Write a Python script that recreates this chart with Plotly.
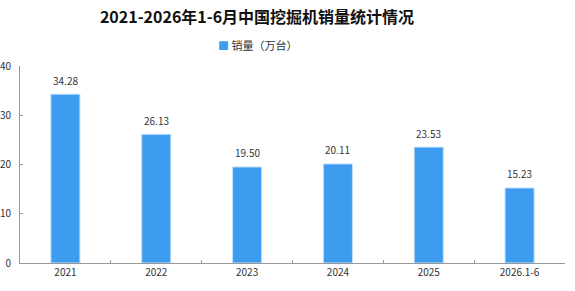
import plotly.graph_objects as go

categories = ["2021", "2022", "2023", "2024", "2025", "2026.1-6"]
sales = [34.28, 26.13, 19.50, 20.11, 23.53, 15.23]
labels = ["34.28", "26.13", "19.50", "20.11", "23.53", "15.23"]
y_ticks = [0, 10, 20, 30, 40]
series_name = "销量（万台）"
bar_color = "#3d9cf0"

fig = go.Figure()
fig.add_trace(go.Bar(
    x=categories, y=sales, name=series_name,
    marker=dict(color=bar_color, line=dict(color="#bfe0fb", width=1)),
    width=0.32, showlegend=False,
))

for i, (v, t) in enumerate(zip(sales, labels)):
    fig.add_annotation(x=i, y=v, text=t, showarrow=False, yshift=14,
                       yanchor="middle",
                       font=dict(size=10, color="#333333", family="Noto Sans CJK SC"))

center_x = (257 - 20) / 545

# legend-like label
fig.add_annotation(
    xref="paper", yref="paper", x=center_x, y=1 + (66 - 45) / 197,
    xanchor="center", yanchor="middle", showarrow=False,
    text=f"<span style='color:{bar_color}'>■</span> {series_name}",
    font=dict(size=11, color="#333333", family="Noto Sans CJK SC"),
)

fig.update_layout(
    width=575, height=291,
    margin=dict(l=20, r=10, t=66, b=28),
    paper_bgcolor="white", plot_bgcolor="white",
    font=dict(family="Noto Sans CJK SC", size=10, color="#333333"),
    title=dict(text="<b>2021-2026年1-6月中国挖掘机销量统计情况</b>",
               x=center_x, xanchor="center", xref="paper",
               y=1 - 17/291, yanchor="middle",
               font=dict(size=16, color="#111111", family="Noto Sans CJK SC")),
    showlegend=False,
)
fig.update_xaxes(
    type="category", range=[-0.5, len(categories) - 0.5],
    showline=True, linecolor="#999999", linewidth=1,
    ticks="inside", ticklen=3, tickcolor="#999999", tickson="boundaries",
    showgrid=False, tickfont=dict(size=10, color="#333333"), automargin=False,
    tickangle=0,
)
fig.update_yaxes(
    range=[0, 40], tickvals=y_ticks, showline=True, linecolor="#999999", linewidth=1,
    ticks="inside", ticklen=3, tickcolor="#999999", showgrid=False, zeroline=False,
    tickfont=dict(size=10, color="#333333"), ticklabelstandoff=6, automargin=False,
)

fig.write_html("out.html")
